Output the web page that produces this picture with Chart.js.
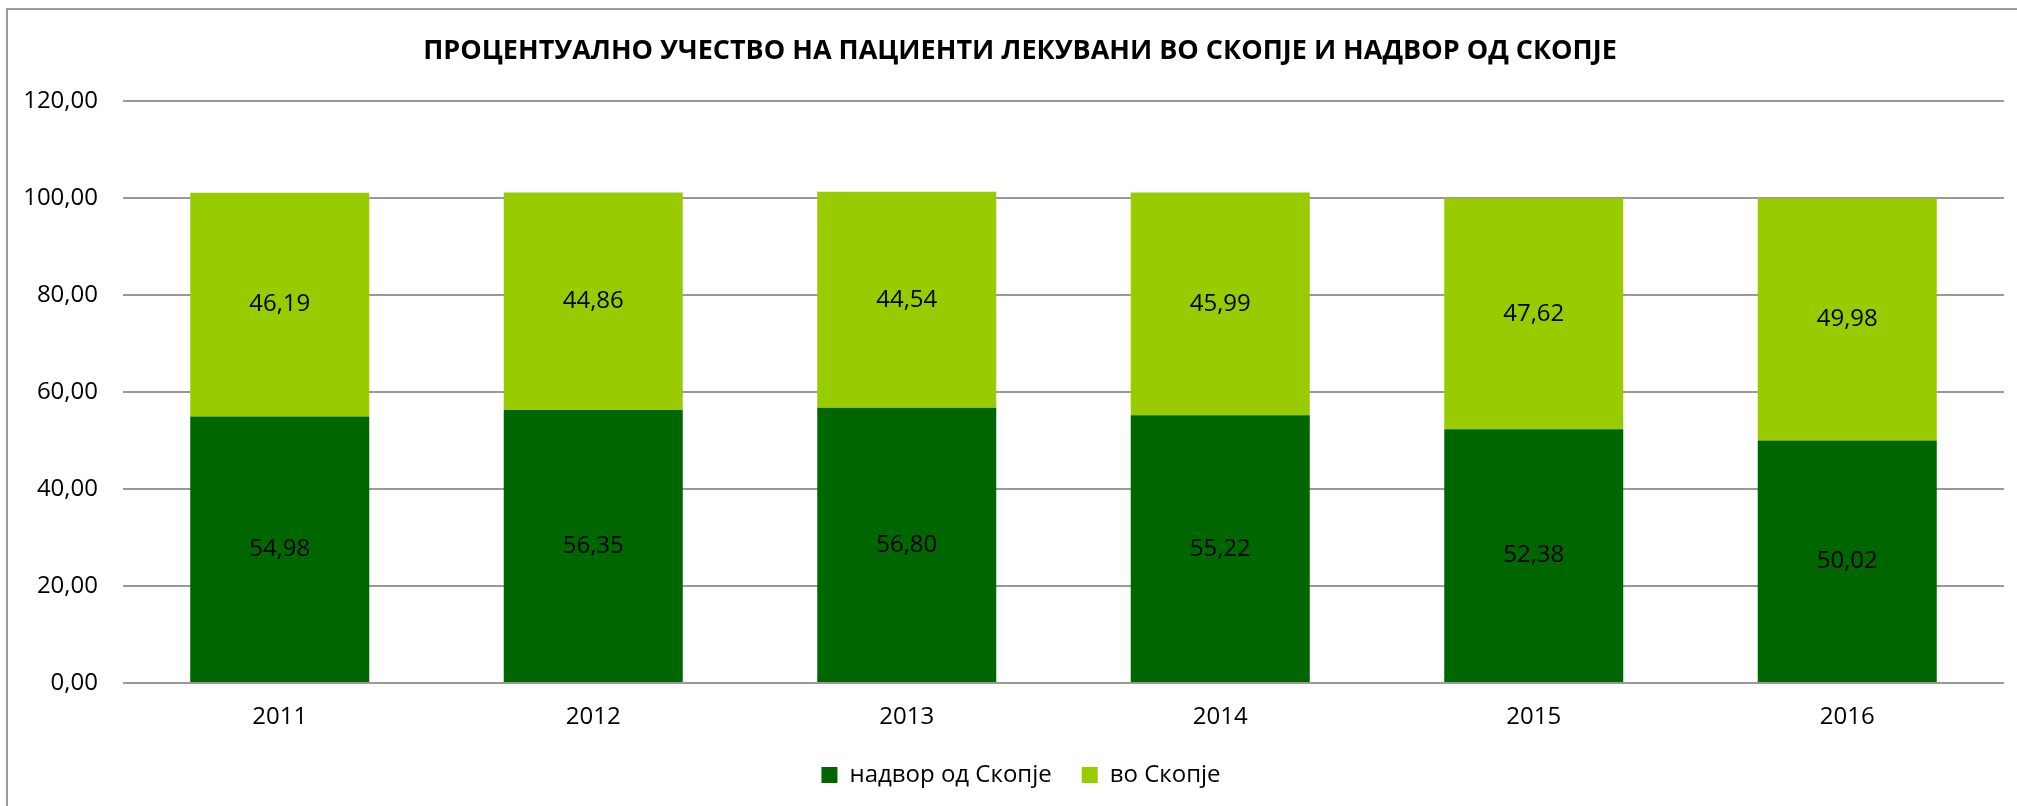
<!DOCTYPE html>
<html>
<head>
<meta charset="utf-8">
<script src="https://cdn.jsdelivr.net/npm/chart.js@4"></script>
<style>
  html, body { margin: 0; padding: 0; background: #fff; }
  #wrap { width: 2017px; height: 806px; }
</style>
</head>
<body>
<div id="wrap"><canvas id="chart"></canvas></div>
<script>
// Data
const godini = ["2011", "2012", "2013", "2014", "2015", "2016"];
const nadvorOdSkopje = [54.98, 56.35, 56.8, 55.22, 52.38, 50.02];
const voSkopje = [46.19, 44.86, 44.54, 45.99, 47.62, 49.98];
const yTicks = [0, 20, 40, 60, 80, 100, 120];

const font = "'Open Sans', 'DejaVu Sans', sans-serif";

// format number with decimal comma, like "54,98"
function fmt(v) {
  return Number(v).toFixed(2).replace(".", ",");
}

// draws the values in the middle of each bar segment
const barValues = {
  id: "barValues",
  afterDatasetsDraw(chart) {
    const ctx = chart.ctx;
    ctx.save();
    ctx.font = "24px " + font;
    ctx.fillStyle = "#000";
    ctx.textAlign = "center";
    ctx.textBaseline = "middle";
    chart.data.datasets.forEach((ds, i) => {
      const meta = chart.getDatasetMeta(i);
      meta.data.forEach((bar, j) => {
        const yMid = (bar.y + bar.base) / 2;
        ctx.fillText(fmt(ds.data[j]), bar.x, yMid);
      });
    });
    ctx.restore();
  },
};

// outer grey frame of the chart, title and legend nudged a bit to the right
const frame = {
  id: "frame",
  afterLayout(chart) {
    const t = chart.titleBlock;
    if (t) {
      t.left += 13;
      t.right += 13;
    }
    const l = chart.legend;
    if (l) {
      l.left += 14;
      l.right += 14;
    }
  },
  beforeDraw(chart) {
    const ctx = chart.ctx;
    ctx.save();
    ctx.strokeStyle = "#9a9a9a";
    ctx.lineWidth = 2;
    ctx.strokeRect(7, 9, 2100, 900);
    ctx.restore();
  },
};

const ctx = document.getElementById("chart").getContext("2d");
new Chart(ctx, {
  type: "bar",
  data: {
    labels: godini,
    datasets: [
      {
        label: "надвор од Скопје",
        data: nadvorOdSkopje,
        backgroundColor: "#006600",
      },
      {
        label: "во Скопје",
        data: voSkopje,
        backgroundColor: "#99CC00",
      },
    ],
  },
  options: {
    responsive: true,
    maintainAspectRatio: false,
    animation: false,
    layout: {
      padding: { left: 10, right: 13, top: 0, bottom: 9 },
    },
    datasets: {
      bar: {
        categoryPercentage: 1,
        barPercentage: 0.571,
      },
    },
    scales: {
      x: {
        stacked: true,
        grid: { display: false, drawTicks: false },
        border: { display: false },
        ticks: {
          color: "#000",
          font: { family: font, size: 24 },
          padding: 20,
        },
        afterFit(scale) {
          scale.height = 50;
        },
      },
      y: {
        stacked: true,
        min: 0,
        max: 120,
        afterBuildTicks(scale) {
          scale.ticks = yTicks.map((v) => ({ value: v }));
        },
        grid: {
          color: "#999999",
          lineWidth: 2,
          drawTicks: false,
        },
        border: { display: false },
        ticks: {
          color: "#000",
          font: { family: font, size: 24 },
          padding: 25,
          callback: (v) => fmt(v),
        },
        afterFit(scale) {
          scale.width = 113;
        },
      },
    },
    plugins: {
      title: {
        display: true,
        text: "ПРОЦЕНТУАЛНО УЧЕСТВО НА ПАЦИЕНТИ ЛЕКУВАНИ ВО СКОПЈЕ И НАДВОР ОД СКОПЈЕ",
        color: "#000",
        font: { family: font, size: 27, weight: "bold", lineHeight: 1.2 },
        padding: { top: 35, bottom: 34 },
      },
      legend: {
        position: "bottom",
        labels: {
          color: "#000",
          font: { family: font, size: 24 },
          boxWidth: 16,
          boxHeight: 16,
          padding: 30,
        },
      },
      tooltip: { enabled: false },
    },
  },
  plugins: [frame, barValues],
});
</script>
</body>
</html>
